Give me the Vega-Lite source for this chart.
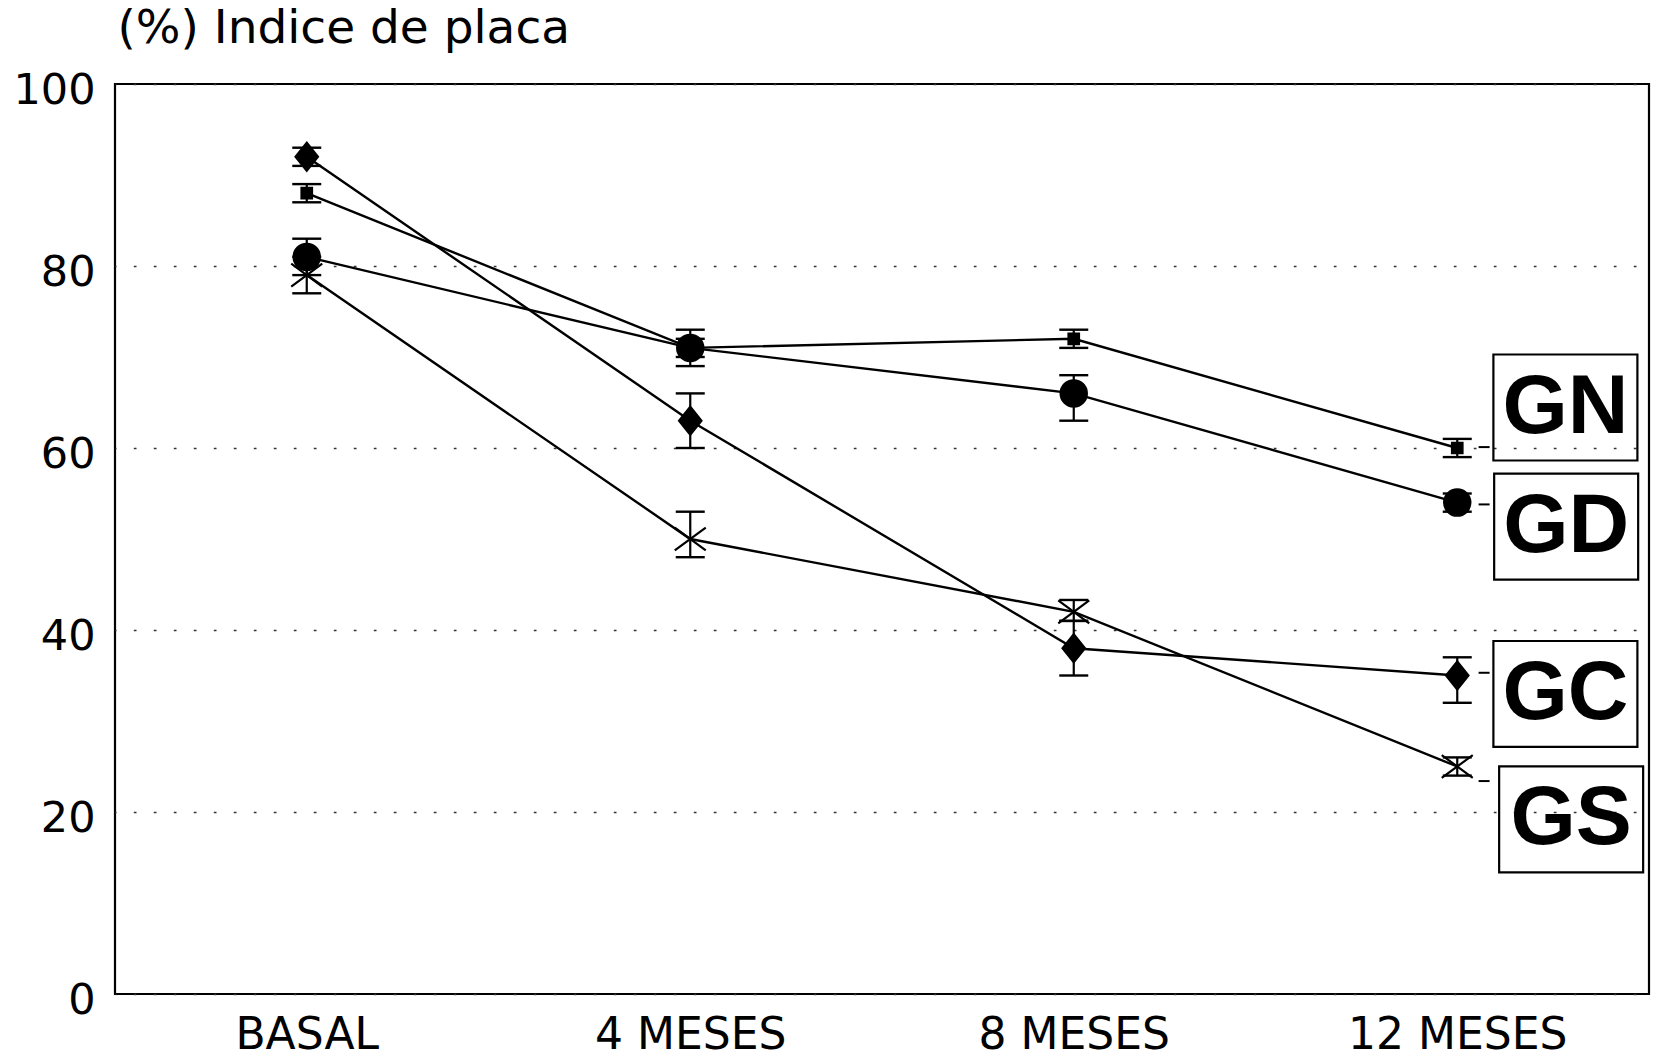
{
  "$schema": "https://vega.github.io/schema/vega-lite/v6.json",
  "autosize": {"type": "none"},
  "padding": {"left": 115, "top": 84, "right": 12, "bottom": 64},
  "width": 1534,
  "height": 910,
  "background": "white",
  "config": {
    "view": {"stroke": "black", "strokeWidth": 2.2},
    "font": "DejaVu Sans"
  },
  "datasets": {
    "medias": [
      {"grupo": "GN", "t": 0, "valor": 88, "inf": 87, "sup": 89},
      {"grupo": "GN", "t": 1, "valor": 71, "inf": 70, "sup": 72},
      {"grupo": "GN", "t": 2, "valor": 72, "inf": 71, "sup": 73},
      {"grupo": "GN", "t": 3, "valor": 60, "inf": 59, "sup": 61},
      {"grupo": "GD", "t": 0, "valor": 81, "inf": 79, "sup": 83},
      {"grupo": "GD", "t": 1, "valor": 71, "inf": 69, "sup": 73},
      {"grupo": "GD", "t": 2, "valor": 66, "inf": 63, "sup": 68},
      {"grupo": "GD", "t": 3, "valor": 54, "inf": 53, "sup": 55},
      {"grupo": "GC", "t": 0, "valor": 92, "inf": 91, "sup": 93},
      {"grupo": "GC", "t": 1, "valor": 63, "inf": 60, "sup": 66},
      {"grupo": "GC", "t": 2, "valor": 38, "inf": 35, "sup": 41},
      {"grupo": "GC", "t": 3, "valor": 35, "inf": 32, "sup": 37},
      {"grupo": "GS", "t": 0, "valor": 79, "inf": 77, "sup": 81},
      {"grupo": "GS", "t": 1, "valor": 50, "inf": 48, "sup": 53},
      {"grupo": "GS", "t": 2, "valor": 42, "inf": 41, "sup": 43.3},
      {"grupo": "GS", "t": 3, "valor": 25, "inf": 24, "sup": 26}
    ],
    "etiquetas": [
      {"grupo": "GN", "x": 3.282, "y": 64.45, "guion": 60.1},
      {"grupo": "GD", "x": 3.284, "y": 51.35, "guion": 53.8},
      {"grupo": "GC", "x": 3.282, "y": 32.97, "guion": 35.3},
      {"grupo": "GS", "x": 3.297, "y": 19.18, "guion": 23.4}
    ]
  },
  "layer": [
    {
      "data": {"name": "medias"},
      "mark": {"type": "line", "color": "black", "strokeWidth": 2.4},
      "encoding": {
        "x": {
          "field": "t",
          "type": "quantitative",
          "scale": {"domain": [-0.5, 3.5], "nice": false, "zero": false},
          "axis": {
            "values": [0, 1, 2, 3],
            "labelExpr": "['BASAL', '4 MESES', '8 MESES', '12 MESES'][datum.value]",
            "title": null,
            "ticks": false,
            "domain": false,
            "grid": false,
            "labelFont": "DejaVu Sans",
            "labelFontSize": 44,
            "labelColor": "black",
            "labelPadding": 19,
            "labelLimit": 0,
            "labelFlush": false,
            "labelOverlap": false
          }
        },
        "y": {
          "field": "valor",
          "type": "quantitative",
          "scale": {"domain": [0, 100], "nice": false},
          "axis": {
            "values": [0, 20, 40, 60, 80, 100],
            "ticks": false,
            "domain": false,
            "grid": true,
            "gridColor": "#333333",
            "gridWidth": 1.6,
            "gridDash": [2.7, 17.3],
            "gridDashOffset": 1.7,
            "labelFont": "DejaVu Sans",
            "labelFontSize": 43,
            "labelColor": "black",
            "labelPadding": 20,
            "labelOffset": 6,
            "labelFlush": false,
            "labelLimit": 0,
            "title": "(%) Indice de placa",
            "titleAngle": 0,
            "titleAlign": "left",
            "titleBaseline": "alphabetic",
            "titleX": 2,
            "titleY": -42,
            "titleFont": "DejaVu Sans",
            "titleFontSize": 47,
            "titleFontWeight": "normal",
            "titleColor": "black",
            "titleLimit": 0
          }
        },
        "detail": {"field": "grupo", "type": "nominal"}
      }
    },
    {
      "data": {"name": "medias"},
      "mark": {"type": "rule", "color": "black", "strokeWidth": 2.2},
      "encoding": {
        "x": {"field": "t", "type": "quantitative"},
        "y": {"field": "inf", "type": "quantitative"},
        "y2": {"field": "sup"}
      }
    },
    {
      "data": {"name": "medias"},
      "mark": {"type": "tick", "orient": "horizontal", "color": "black", "size": 29, "thickness": 2.4, "opacity": 1},
      "encoding": {
        "x": {"field": "t", "type": "quantitative"},
        "y": {"field": "inf", "type": "quantitative"}
      }
    },
    {
      "data": {"name": "medias"},
      "mark": {"type": "tick", "orient": "horizontal", "color": "black", "size": 29, "thickness": 2.4, "opacity": 1},
      "encoding": {
        "x": {"field": "t", "type": "quantitative"},
        "y": {"field": "sup", "type": "quantitative"}
      }
    },
    {
      "data": {"name": "medias"},
      "mark": {"type": "point", "filled": true, "fill": "black", "stroke": "black", "strokeWidth": 2.2, "opacity": 1},
      "encoding": {
        "x": {"field": "t", "type": "quantitative"},
        "y": {"field": "valor", "type": "quantitative"},
        "shape": {
          "field": "grupo",
          "type": "nominal",
          "scale": {
            "domain": ["GN", "GD", "GC", "GS"],
            "range": ["square", "circle", "M0,-1L0.8,0L0,1L-0.8,0Z", "M-1,-0.74L1,0.74M-1,0.74L1,-0.74"]
          },
          "legend": null
        },
        "size": {
          "field": "grupo",
          "type": "ordinal",
          "scale": {"type": "ordinal", "domain": ["GN", "GD", "GC", "GS"], "range": [110, 690, 784, 961]},
          "legend": null
        }
      }
    },
    {
      "data": {"name": "etiquetas"},
      "mark": {"type": "tick", "orient": "horizontal", "color": "black", "size": 11, "thickness": 2, "opacity": 1},
      "encoding": {
        "x": {"datum": 3.07, "type": "quantitative"},
        "y": {"field": "guion", "type": "quantitative"}
      }
    },
    {
      "data": {"name": "etiquetas"},
      "mark": {"type": "point", "shape": "M-1,-0.736H1V0.736H-1Z", "size": 20736, "filled": false, "stroke": "black", "strokeWidth": 2.2, "opacity": 1},
      "encoding": {
        "x": {"field": "x", "type": "quantitative"},
        "y": {"field": "y", "type": "quantitative"}
      }
    },
    {
      "data": {"name": "etiquetas"},
      "mark": {"type": "text", "font": "Liberation Sans", "fontWeight": "bold", "fontSize": 84, "align": "center", "baseline": "middle", "color": "black"},
      "encoding": {
        "x": {"field": "x", "type": "quantitative"},
        "y": {"field": "y", "type": "quantitative"},
        "text": {"field": "grupo", "type": "nominal"}
      }
    }
  ]
}
